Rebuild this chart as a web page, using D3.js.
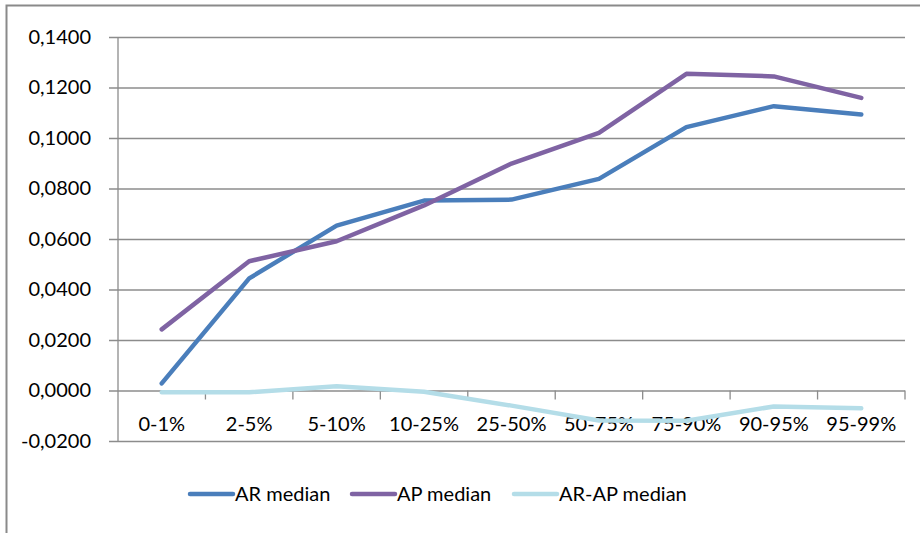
<!DOCTYPE html>
<html>
<head>
<meta charset="utf-8">
<script src="https://cdn.jsdelivr.net/npm/d3@7"></script>
<style>
  html, body { margin: 0; padding: 0; background: #fff; }
  svg { display: block; }
  text { font-family: Lato, "Open Sans", sans-serif; fill: #000; }
</style>
</head>
<body>
<svg id="chart" width="920" height="533"></svg>
<script>
// Percentile bands on the x axis
const categories = ["0-1%", "2-5%", "5-10%", "10-25%", "25-50%", "50-75%", "75-90%", "90-95%", "95-99%"];

// Median values per band
const arMedian   = [0.0028, 0.0444, 0.0653, 0.0752, 0.0756, 0.0838, 0.1043, 0.1126, 0.1093];
const apMedian   = [0.0242, 0.0512, 0.0591, 0.0733, 0.0899, 0.1020, 0.1254, 0.1244, 0.1159];
const arApMedian = [-0.0007, -0.0007, 0.0017, -0.0005, -0.0060, -0.0119, -0.0120, -0.0063, -0.0070];

const seriesNames  = ["AR median", "AP median", "AR-AP median"];
const seriesColors = ["#4A7EBB", "#7F63A3", "#B4DDE8"];

// y axis ticks
const yTicks = [-0.02, 0, 0.02, 0.04, 0.06, 0.08, 0.10, 0.12, 0.14];

const svg = d3.select("#chart");
const plot = { left: 118, right: 905, top: 37, bottom: 441 };

// Chart frame (top and left edges visible)
svg.append("rect")
  .attr("x", 6.5).attr("y", 5.5)
  .attr("width", 960).attr("height", 560)
  .attr("fill", "none")
  .attr("stroke", "#8a8a8a")
  .attr("stroke-width", 2);

const x = d3.scaleBand().domain(categories).range([plot.left, plot.right]).padding(0);
const y = d3.scaleLinear().domain([-0.02, 0.14]).range([plot.bottom, plot.top]);

const locale = d3.formatLocale({ decimal: ",", thousands: ".", grouping: [3], currency: ["", ""], minus: "-" });
const fmt = locale.format(".4f");

// Horizontal gridlines with outward tick marks and value labels
const yAxis = svg.append("g")
  .attr("transform", `translate(${plot.left},0)`)
  .call(d3.axisLeft(y).tickValues(yTicks).tickFormat(fmt)
    .tickSizeInner(-(plot.right - plot.left)).tickSizeOuter(0).tickPadding(27));
yAxis.select(".domain").remove();
yAxis.selectAll(".tick line")
  .attr("x1", -9)
  .attr("stroke", "#8c8c8c")
  .attr("stroke-width", 1.3);
yAxis.selectAll(".tick text")
  .attr("font-size", 20)
  .attr("font-family", "Lato, sans-serif");

// Vertical axis line
svg.append("line")
  .attr("x1", plot.left).attr("x2", plot.left)
  .attr("y1", y(0.14)).attr("y2", y(-0.02))
  .attr("stroke", "#8c8c8c").attr("stroke-width", 1.3);

// Category axis sitting on the zero line
const xAxis = svg.append("g")
  .attr("transform", `translate(0,${y(0)})`)
  .call(d3.axisBottom(x).tickSize(0).tickPadding(26));
xAxis.select(".domain").remove();
xAxis.selectAll(".tick text")
  .attr("font-size", 20)
  .attr("font-family", "Lato, sans-serif");

// Tick marks on category boundaries
const boundaries = categories.map(c => x(c)).concat([x(categories[categories.length - 1]) + x.bandwidth()]);
svg.append("g").selectAll("line")
  .data(boundaries.slice(1))
  .join("line")
  .attr("x1", d => d).attr("x2", d => d)
  .attr("y1", y(0)).attr("y2", y(0) + 9)
  .attr("stroke", "#8c8c8c").attr("stroke-width", 1.3);

// Series lines
const allSeries = [arMedian, apMedian, arApMedian];
const line = d3.line()
  .x((d, i) => x(categories[i]) + x.bandwidth() / 2)
  .y(d => y(d));

svg.append("g").selectAll("path")
  .data(allSeries)
  .join("path")
  .attr("d", d => line(d))
  .attr("fill", "none")
  .attr("stroke", (d, i) => seriesColors[i])
  .attr("stroke-width", 4.5)
  .attr("stroke-linejoin", "round")
  .attr("stroke-linecap", "round");

// Legend
const legendX = [190, 352, 514];
const legendY = 494;
const legend = svg.append("g").selectAll("g")
  .data(seriesNames)
  .join("g")
  .attr("transform", (d, i) => `translate(${legendX[i]},${legendY})`);
legend.append("line")
  .attr("x1", 0).attr("x2", 43)
  .attr("y1", 0).attr("y2", 0)
  .attr("stroke", (d, i) => seriesColors[i])
  .attr("stroke-width", 4.5)
  .attr("stroke-linecap", "round");
legend.append("text")
  .attr("x", 45).attr("y", 0)
  .attr("dy", "0.35em")
  .attr("font-size", 20)
  .text(d => d);
</script>
</body>
</html>
